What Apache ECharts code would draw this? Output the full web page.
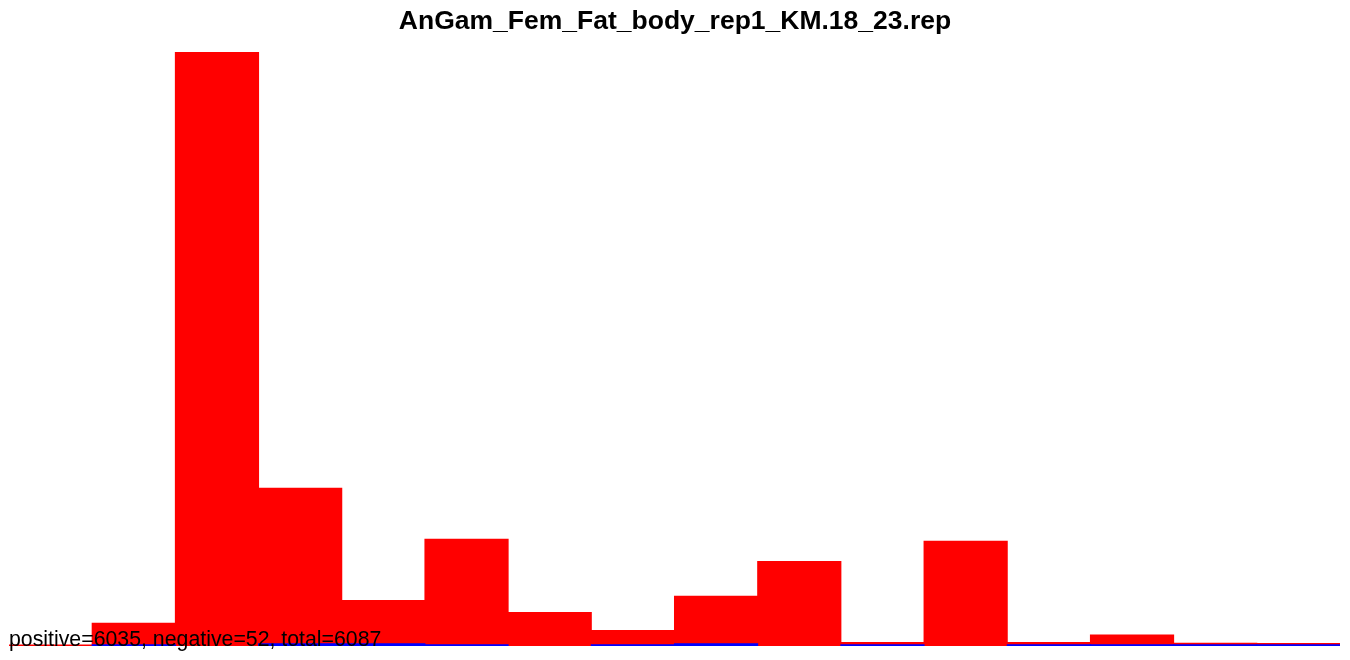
<!DOCTYPE html>
<html>
<head>
<meta charset="utf-8">
<script src="https://cdn.jsdelivr.net/npm/echarts@6/dist/echarts.min.js"></script>
<style>html,body{margin:0;padding:0;background:#fff;}#c{width:1350px;height:660px;}</style>
</head>
<body>
<div id="c"></div>
<script>
const titleText = "AnGam_Fem_Fat_body_rep1_KM.18_23.rep";
const footText = "positive=6035, negative=52, total=6087";
const bins = ["1","2","3","4","5","6","7","8","9","10","11","12","13","14","15","16"];
const positive = [7,112,2876,766,223,519,165,78,243,412,19,509,19,56,16,15];
const negative = [0,8,0,13,13,8,0,8,13,0,8,0,8,8,8,8];

const chart = echarts.init(document.getElementById('c'), null, {renderer:'canvas'});
chart.setOption({
  animation:false,
  backgroundColor:'#ffffff',
  title:{text:titleText,left:'center',top:3,textStyle:{fontFamily:'Liberation Sans, Arial, sans-serif',fontWeight:'bold',fontSize:26.5,color:'#000'}},
  grid:{left:9,right:10,top:52,bottom:14},
  xAxis:{type:'category',data:bins,show:false,boundaryGap:true},
  yAxis:{type:'value',min:0,max:2876,show:false,splitLine:{show:false}},
  series:[
    {type:'bar',data:positive,barWidth:84.2,barGap:'-100%',itemStyle:{color:'#ff0000'}},
    {type:'bar',data:negative,barWidth:84.2,barGap:'-100%',itemStyle:{color:'#0000ff'}}
  ],
  graphic:[{type:'text',left:9,top:630,z:100,style:{text:footText,font:'21.3px "Liberation Sans", Arial, sans-serif',fill:'#000'}}]
});
</script>
</body>
</html>
